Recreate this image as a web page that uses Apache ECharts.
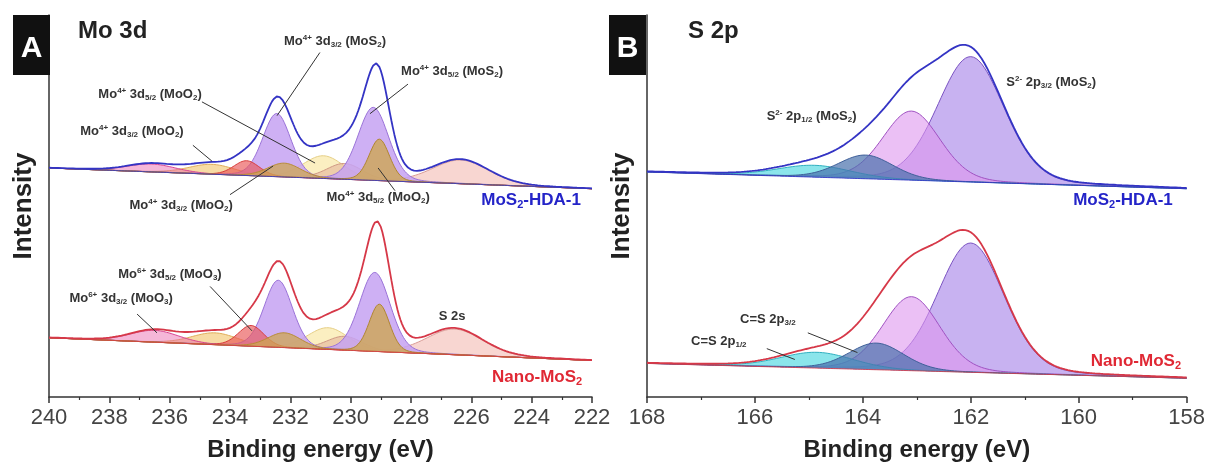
<!DOCTYPE html>
<html>
<head>
<meta charset="utf-8">
<script src="https://cdn.jsdelivr.net/npm/echarts@6/dist/echarts.min.js"></script>
<style>
  html, body { margin: 0; padding: 0; background: #fff; }
  #chart { width: 1208px; height: 467px; }
</style>
</head>
<body>
<div id="chart"></div>
<script>
// ---- Mo 3d region (panel A) ----
const moRange = [222, 240];
const moPeakNames = ['S 2s', 'Mo4+ 3d5/2 sat (MoO2)', 'Mo 3d shoulder', 'Mo4+ 3d3/2 sat (MoO2)',
  'Mo6+ 3d3/2 (MoO3)', 'Mo4+ 3d5/2 (MoS2)', 'Mo4+ 3d3/2 (MoS2)', 'Mo6+ 3d5/2 (MoO3)',
  'Mo4+ 3d3/2 (MoO2)', 'Mo4+ 3d5/2 (MoO2)'];
const moFwhm         = [2.2, 1.6, 1.4, 1.8, 1.9, 1.2, 1.1, 1.0, 1.3, 0.8];
const moHdaCenters   = [226.35, 230.9, 230.2, 234.6, 236.6, 229.25, 232.45, 233.45, 232.2, 229.05];
const moHdaHeights   = [24, 23, 16, 10, 8, 74, 64, 15, 14, 42];
const moNanoCenters  = [226.55, 230.75, 230.2, 234.5, 236.5, 229.2, 232.4, 233.3, 232.2, 229.05];
const moNanoHeights  = [26, 22, 14, 12, 12, 80, 68, 21, 15, 48];
const moHdaBackground  = [232, 211];   // intensity at 240 eV and at 222 eV
const moNanoBackground = [60, 37];

// ---- S 2p region (panel B) ----
const sRange = [158, 168];
const sPeakNames = ['S2- 2p3/2 (MoS2)', 'S2- 2p1/2 (MoS2)', 'C=S 2p1/2', 'C=S 2p3/2'];
const sFwhm         = [1.45, 1.25, 1.6, 1.2];
const sHdaCenters   = [162.0, 163.1, 164.9, 163.95];
const sHdaHeights   = [127, 70, 12, 24];
const sNanoCenters  = [162.0, 163.1, 164.85, 163.75];
const sNanoHeights  = [131, 75, 16, 27];
const sHdaBackground  = [228, 211];    // intensity at 168 eV and at 158 eV
const sNanoBackground = [34, 19];

const intensityMax = 387;
const FONT = '"Liberation Sans", Arial, sans-serif';

// component fill / outline styles
const moPalette = [
  { fill: 'rgba(246,200,194,0.75)', line: '#d99a94' },
  { fill: 'rgba(250,236,182,0.85)', line: '#e6cf86' },
  { fill: 'rgba(226,174,152,0.55)', line: '#cf9884' },
  { fill: 'rgba(244,204,126,0.7)',  line: '#e0ac58' },
  { fill: 'rgba(232,96,168,0.45)',  line: '#d8408e' },
  { fill: 'rgba(198,162,242,0.85)', line: '#9a72d8' },
  { fill: 'rgba(198,162,242,0.85)', line: '#9a72d8' },
  { fill: 'rgba(234,86,86,0.65)',   line: '#d83c3c' },
  { fill: 'rgba(206,166,82,0.75)',  line: '#b88c34' },
  { fill: 'rgba(206,166,82,0.8)',   line: '#b08630' }
];
const sPalette = [
  { fill: 'rgba(182,152,236,0.75)', line: '#7a52c2' },
  { fill: 'rgba(222,150,238,0.6)',  line: '#a052c2' },
  { fill: 'rgba(62,212,222,0.6)',   line: '#30b0c0' },
  { fill: 'rgba(72,112,172,0.7)',   line: '#40609a' }
];

// Gaussian-Lorentzian line shape used by the fit
function glPeak(x, c, h, w) {
  const d = (x - c) / w;
  return h * (0.85 * Math.exp(-4 * Math.LN2 * d * d) + 0.15 / (1 + 4 * d * d));
}

function energies(range, step) {
  const out = [];
  for (let e = range[1]; e >= range[0] - 1e-9; e -= step) out.push(+e.toFixed(3));
  return out;
}

function buildSpectrum(series, axis, range, centers, heights, widths, bgEnds, palette, envColor) {
  const xs = energies(range, 0.05);
  const bg = x => bgEnds[1] + (bgEnds[0] - bgEnds[1]) * (x - range[0]) / (range[1] - range[0]);

  // fitted components: each one is a filled region between the background and background + peak
  series.push({
    type: 'custom', coordinateSystem: 'cartesian2d', xAxisIndex: axis, yAxisIndex: axis,
    silent: true, clip: true, z: 2,
    data: centers.map((c, i) => [c, heights[i], i]),
    encode: { x: 0, y: 1 },
    renderItem(params, api) {
      const c = api.value(0), h = api.value(1), i = api.value(2);
      const top = xs.map(x => api.coord([x, bg(x) + glPeak(x, c, h, widths[i])]));
      const bottom = xs.slice().reverse().map(x => api.coord([x, bg(x)]));
      return {
        type: 'group',
        children: [
          { type: 'polygon', shape: { points: top.concat(bottom) }, style: { fill: palette[i].fill } },
          { type: 'polyline', shape: { points: top }, style: { stroke: palette[i].line, lineWidth: 1, fill: null } }
        ]
      };
    }
  });
  series.push({
    type: 'line', xAxisIndex: axis, yAxisIndex: axis, silent: true, symbol: 'none',
    lineStyle: { color: envColor, width: 1, opacity: 0.85 },
    data: xs.map(x => [x, bg(x)]), z: 3
  });
  series.push({
    type: 'line', xAxisIndex: axis, yAxisIndex: axis, silent: true, symbol: 'none',
    lineStyle: { color: envColor, width: 1.8 },
    data: xs.map(x => [x, bg(x) + centers.reduce((s, c, i) => s + glPeak(x, c, heights[i], widths[i]), 0)]),
    z: 4
  });
}

const series = [];
buildSpectrum(series, 0, moRange, moHdaCenters, moHdaHeights, moFwhm, moHdaBackground, moPalette, '#3434c4');
buildSpectrum(series, 0, moRange, moNanoCenters, moNanoHeights, moFwhm, moNanoBackground, moPalette, '#d63848');
buildSpectrum(series, 1, sRange, sHdaCenters, sHdaHeights, sFwhm, sHdaBackground, sPalette, '#3434c4');
buildSpectrum(series, 1, sRange, sNanoCenters, sNanoHeights, sFwhm, sNanoBackground, sPalette, '#d63848');

function xAxisFor(idx, range) {
  return {
    type: 'value', gridIndex: idx, min: range[0], max: range[1], interval: 2, inverse: true,
    axisLine: { show: true, lineStyle: { color: '#333', width: 1.5 } },
    axisTick: { show: true, inside: false, length: 6, lineStyle: { color: '#333', width: 1.5 } },
    minorTick: { show: true, splitNumber: 2, length: 3, lineStyle: { color: '#333', width: 1.2 } },
    splitLine: { show: false }, minorSplitLine: { show: false },
    axisLabel: { fontSize: 22, color: '#444', margin: 10, fontFamily: FONT },
    name: 'Binding energy (eV)', nameLocation: 'middle', nameGap: 41,
    nameTextStyle: { fontSize: 24, fontWeight: 'bold', color: '#222', fontFamily: FONT }
  };
}
function yAxisFor(idx) {
  return {
    type: 'value', gridIndex: idx, min: 0, max: intensityMax,
    axisLine: { show: true, lineStyle: { color: '#333', width: 1.5 } },
    axisTick: { show: false }, axisLabel: { show: false }, splitLine: { show: false },
    name: 'Intensity', nameLocation: 'middle', nameRotate: 90, nameGap: 12,
    nameTextStyle: { fontSize: 26, fontWeight: 'bold', color: '#222', fontFamily: FONT }
  };
}

const chart = echarts.init(document.getElementById('chart'), null, { renderer: 'canvas' });
chart.setOption({
  animation: false,
  backgroundColor: '#fff',
  grid: [
    { left: 49, top: 15, width: 543, height: 387 },
    { left: 647, top: 15, width: 541, height: 387 }
  ],
  xAxis: [xAxisFor(0, moRange), xAxisFor(1, sRange)],
  yAxis: [yAxisFor(0), yAxisFor(1)],
  series
});

// ---- annotations, placed in data coordinates ----
const rich = {
  sup: { fontSize: 8, fontWeight: 'bold', fontFamily: FONT, fill: '#333', verticalAlign: 'top', lineHeight: 15 },
  sub: { fontSize: 8, fontWeight: 'bold', fontFamily: FONT, fill: '#333', verticalAlign: 'bottom', lineHeight: 15 }
};
const annotations = [
  { g: 0, text: 'Mo{sup|4+} 3d{sub|3/2} (MoS{sub|2})', at: [230.52, 360], from: [231.02, 349], to: [232.44, 285] },
  { g: 0, text: 'Mo{sup|4+} 3d{sub|5/2} (MoS{sub|2})', at: [226.64, 330], from: [228.10, 317], to: [229.36, 287] },
  { g: 0, text: 'Mo{sup|4+} 3d{sub|5/2} (MoO{sub|2})', at: [236.65, 307], from: [234.93, 299], to: [231.18, 237] },
  { g: 0, text: 'Mo{sup|4+} 3d{sub|3/2} (MoO{sub|2})', at: [237.25, 269], from: [235.23, 255], to: [234.60, 239] },
  { g: 0, text: 'Mo{sup|4+} 3d{sub|3/2} (MoO{sub|2})', at: [235.62, 194], from: [234.00, 205], to: [232.57, 234] },
  { g: 0, text: 'Mo{sup|4+} 3d{sub|5/2} (MoO{sub|2})', at: [229.09, 202], from: [228.53, 209], to: [229.09, 232] },
  { g: 0, text: 'Mo{sup|6+} 3d{sub|5/2} (MoO{sub|3})', at: [235.99, 124], from: [234.66, 112], to: [233.27, 67] },
  { g: 0, text: 'Mo{sup|6+} 3d{sub|3/2} (MoO{sub|3})', at: [237.61, 100], from: [237.08, 84], to: [236.42, 65] },
  { g: 0, text: 'S 2s', at: [226.64, 82] },
  { g: 1, text: 'S{sup|2-} 2p{sub|1/2} (MoS{sub|2})', at: [164.95, 284] },
  { g: 1, text: 'S{sup|2-} 2p{sub|3/2} (MoS{sub|2})', at: [160.51, 319] },
  { g: 1, text: 'C=S 2p{sub|3/2}', at: [165.76, 79], from: [165.02, 65], to: [164.10, 45] },
  { g: 1, text: 'C=S 2p{sub|1/2}', at: [166.67, 56], from: [165.78, 49], to: [165.26, 38] }
];
const sampleLabels = [
  { g: 0, text: 'MoS{s|2}-HDA-1', at: [224.02, 199], color: '#2424c8' },
  { g: 0, text: 'Nano-MoS{s|2}', at: [223.82, 20], color: '#e02834' },
  { g: 1, text: 'MoS{s|2}-HDA-1', at: [159.18, 199], color: '#2424c8' },
  { g: 1, text: 'Nano-MoS{s|2}', at: [158.94, 36], color: '#e02834' }
];

const toPx = (g, p) => chart.convertToPixel({ xAxisIndex: g, yAxisIndex: g }, p);
const graphic = [];
annotations.forEach(a => {
  if (a.from) {
    const p1 = toPx(a.g, a.from), p2 = toPx(a.g, a.to);
    graphic.push({ type: 'line', z: 50, silent: true,
      shape: { x1: p1[0], y1: p1[1], x2: p2[0], y2: p2[1] },
      style: { stroke: '#333', lineWidth: 1 } });
  }
  const p = toPx(a.g, a.at);
  graphic.push({ type: 'text', z: 60, silent: true, x: p[0], y: p[1],
    style: { text: a.text, rich, fontSize: 13, fontWeight: 'bold', fontFamily: FONT,
      fill: '#333', align: 'center', verticalAlign: 'middle', lineHeight: 15 } });
});
sampleLabels.forEach(a => {
  const p = toPx(a.g, a.at);
  graphic.push({ type: 'text', z: 60, silent: true, x: p[0], y: p[1],
    style: { text: a.text, fontSize: 17, fontWeight: 'bold', fontFamily: FONT, fill: a.color,
      align: 'center', verticalAlign: 'middle', lineHeight: 20,
      rich: { s: { fontSize: 11, fontWeight: 'bold', fontFamily: FONT, fill: a.color, verticalAlign: 'bottom', lineHeight: 20 } } } });
});

// panel letters and region titles
[{ x: 13, letter: 'A', title: 'Mo 3d', tx: 78 }, { x: 609, letter: 'B', title: 'S 2p', tx: 688 }].forEach(p => {
  graphic.push({ type: 'rect', z: 70, silent: true, shape: { x: p.x, y: 15, width: 37, height: 60 }, style: { fill: '#111' } });
  graphic.push({ type: 'text', z: 71, silent: true, x: p.x + 18.5, y: 49,
    style: { text: p.letter, fontSize: 30, fontWeight: 'bold', fontFamily: FONT, fill: '#fff', align: 'center', verticalAlign: 'middle' } });
  graphic.push({ type: 'text', z: 71, silent: true, x: p.tx, y: 31,
    style: { text: p.title, fontSize: 24, fontWeight: 'bold', fontFamily: FONT, fill: '#222', align: 'left', verticalAlign: 'middle' } });
});

chart.setOption({ graphic });
</script>
</body>
</html>
